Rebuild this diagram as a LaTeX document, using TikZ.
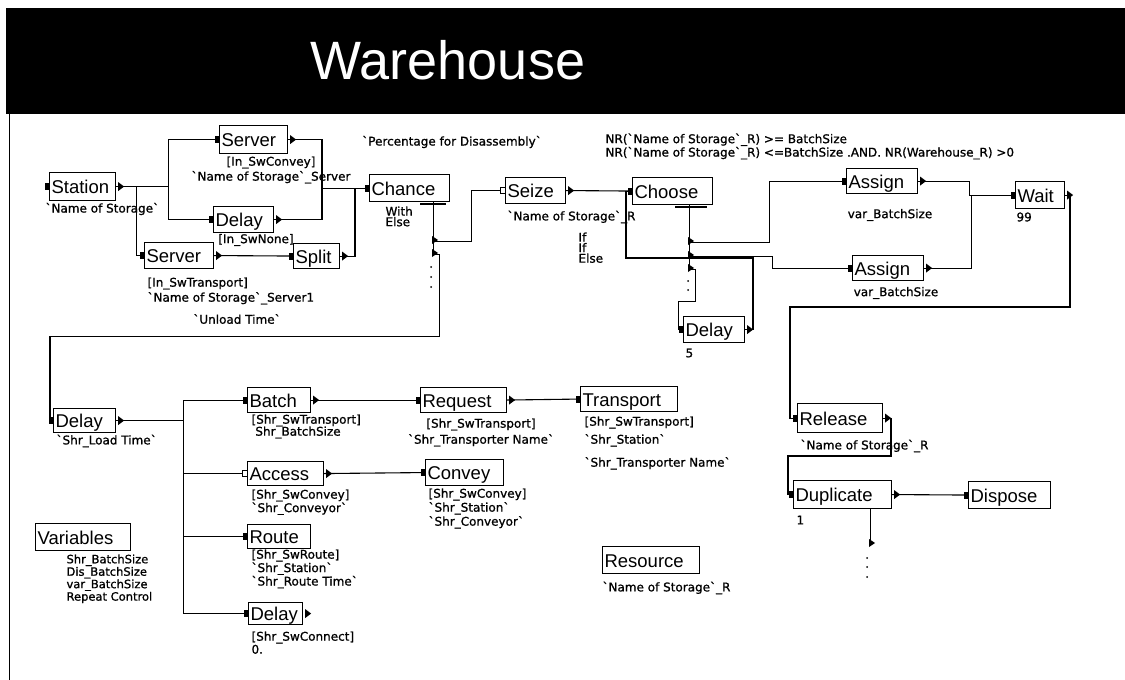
\documentclass[tikz,border=0pt]{standalone}
\usepackage{fontspec}
\setmainfont{Liberation Sans}
\newfontfamily\labfont[FakeBold=1]{DejaVu Sans}
\newcommand{\modfont}{\fontsize{18.5}{20}\selectfont}

\begin{document}
\begin{tikzpicture}[x=1pt,y=-1pt,line width=1.1pt,
  mod/.style={draw,font=\modfont,inner xsep=2pt,inner ysep=0pt,text height=15pt,text depth=1pt,anchor=north west,align=left},
  lab/.style={font=\labfont\fontsize{12}{14}\selectfont,inner sep=0pt,align=left},
  tight/.style={font=\labfont\fontsize{12}{10.5}\selectfont,inner sep=0pt,align=left,anchor=north west}]
\useasboundingbox (0,0) rectangle (1125,680);

% Header
\fill[black] (6,8) rectangle (1125,114);
\node[font=\fontsize{54}{58}\selectfont,text=white] (title) at (448,60) {Warehouse};
\draw[line width=1pt] (9,114) -- (9,680);

% Modules
\node[mod,text width=62pt,minimum height=28pt] (station) at (49,172) {Station};
\node[mod,text width=64pt,minimum height=28pt] (serverA) at (219,125) {Server};
\node[mod,text width=56pt,minimum height=26pt] (delayA) at (213,206) {Delay};
\node[mod,text width=65pt,minimum height=26pt] (serverB) at (144,242) {Server};
\node[mod,text width=42pt,minimum height=25pt] (split) at (293,243) {Split};
\node[mod,text width=76pt,minimum height=27pt] (chance) at (369,174) {Chance};
\node[mod,text width=56pt,minimum height=26pt] (seize) at (505,177) {Seize};
\node[mod,text width=76pt,minimum height=27pt] (choose) at (632,177) {Choose};
\node[mod,text width=67pt,minimum height=25pt] (assignA) at (846,168) {Assign};
\node[mod,text width=67pt,minimum height=25pt] (assignB) at (852,255) {Assign};
\node[mod,text width=45pt,minimum height=27pt] (wait) at (1015,181) {Wait};
\node[mod,text width=57pt,minimum height=26pt] (delayB) at (683,316) {Delay};
\node[mod,text width=58pt,minimum height=24pt] (delayC) at (53,408) {Delay};
\node[mod,text width=59pt,minimum height=25pt] (batch) at (247,387) {Batch};
\node[mod,text width=72pt,minimum height=24pt] (access) at (247,461) {Access};
\node[mod,text width=59pt,minimum height=24pt] (route) at (247,524) {Route};
\node[mod,text width=50pt,minimum height=22pt] (delayD) at (248,602) {Delay};
\node[mod,text width=91pt,minimum height=27pt] (variables) at (35,523) {Variables};
\node[mod,text width=82pt,minimum height=25pt] (request) at (420,387) {Request};
\node[mod,text width=93pt,minimum height=25pt] (transport) at (580,386) {Transport};
\node[mod,text width=74pt,minimum height=26pt] (convey) at (425,459) {Convey};
\node[mod,text width=93pt,minimum height=27pt] (resource) at (602,546) {Resource};
\node[mod,text width=81pt,minimum height=29pt] (release) at (797,403) {Release};
\node[mod,text width=94pt,minimum height=28pt] (duplicate) at (793,480) {Duplicate};
\node[mod,text width=78pt,minimum height=27pt] (dispose) at (968,481) {Dispose};

% Labels
\node[lab,anchor=west] (stationlab) at (45,209) {`Name of Storage`};
\node[lab,align=center,font=\labfont\fontsize{12}{15}\selectfont] (serverAlab) at (271,170) {[In\_SwConvey]\\`Name of Storage`\_Server};
\node[lab] (delayAlab) at (256,240) {[In\_SwNone]};
\node[lab,anchor=north west,font=\labfont\fontsize{12}{15}\selectfont] (serverBlab) at (147,277) {[In\_SwTransport]\\`Name of Storage`\_Server1};
\node[lab] (unloadlab) at (237,319) {`Unload Time`};
\node[lab] (disslab) at (452,142) {`Percentage for Disassembly`};
\node[tight] (chancelab) at (385,206) {With\\Else};
\node[lab,anchor=west] (seizelab) at (507,217) {`Name of Storage`\_R};
\node[tight] (iflab) at (578,232) {If\\If\\Else};
\node[tight] (condlab) at (605,133) {NR(`Name of Storage`\_R) >= BatchSize\\NR(`Name of Storage`\_R) <=BatchSize .AND. NR(Warehouse\_R) >0};
\node[lab] (assignAlab) at (890,215) {var\_BatchSize};
\node[lab,anchor=west] (waitlab) at (1016,217) {99};
\node[lab] (assignBlab) at (896,293) {var\_BatchSize};
\node[lab,anchor=west] (delayBlab) at (685,353) {5};
\node[lab,anchor=west] (delayClab) at (56,441) {`Shr\_Load Time`};
\node[tight,font=\labfont\fontsize{12}{12}\selectfont] (batchlab) at (251,414) {[Shr\_SwTransport]\\\ Shr\_BatchSize};
\node[tight,font=\labfont\fontsize{12}{12}\selectfont] (accesslab) at (251,489) {[Shr\_SwConvey]\\`Shr\_Conveyor`};
\node[tight,font=\labfont\fontsize{12}{12}\selectfont] (routelab) at (251,549) {[Shr\_SwRoute]\\`Shr\_Station`\\`Shr\_Route Time`};
\node[tight,font=\labfont\fontsize{12}{13}\selectfont] (delayDlab) at (251,631) {[Shr\_SwConnect]\\0.};
\node[tight,font=\labfont\fontsize{11.5}{10}\selectfont] (varlab) at (66,554) {Shr\_BatchSize\\Dis\_BatchSize\\var\_BatchSize\\Repeat Control};
\node[lab,anchor=north,align=center,font=\labfont\fontsize{12}{16}\selectfont] (requestlab) at (481,418) {[Shr\_SwTransport]\\`Shr\_Transporter Name`};
\node[tight,font=\labfont\fontsize{12}{18}\selectfont] (transportlab) at (584,416) {[Shr\_SwTransport]\\`Shr\_Station`\\[5pt]`Shr\_Transporter Name`};
\node[tight,font=\labfont\fontsize{12}{14}\selectfont] (conveylab) at (428,488) {[Shr\_SwConvey]\\`Shr\_Station`\\`Shr\_Conveyor`};
\node[lab,anchor=west] (resourcelab) at (602,588) {`Name of Storage`\_R};
\node[lab,anchor=west] (releaselab) at (800,446) {`Name of Storage`\_R};
\node[lab,anchor=west] (duplab) at (796,520) {1};

% Connectors
\draw (station.east) -- ++(52,0) |- (serverA.west);
\draw (station.east) -- ++(52,0) |- (delayA.west);
\draw (station.east) -- ++(20,0) |- (serverB.west);
\draw (serverA.east) -| ([xshift=-47pt]chance.west) -- (chance.west);
\draw (delayA.east) -| ([xshift=-47pt]chance.west);
\draw (serverB.east) -- (split.west);
\draw (split.east) -| ([xshift=-14pt]chance.west);

\coordinate (chanceout) at ([xshift=-17pt]chance.south east);
\draw (chanceout) -- ++(0,52);
\draw (chanceout) ++(0,39) -- ++(38,0) |- (seize.west);
\draw (chanceout) ++(0,52) -- ++(6,0) -- ++(0,82) -| ([xshift=-3pt]delayC.west) -- (delayC.west);

\draw (seize.east) -- (choose.west);
\coordinate (chooseout) at ([xshift=-24pt]choose.south east);
\draw (chooseout) -- ++(0,64);
\draw (chooseout) ++(0,37) -- ++(80,0) |- (assignA.west);
\draw (chooseout) ++(0,51) -- ++(83,0) |- (assignB.west);
\draw (chooseout) ++(0,64) -- ++(6,0) -- ++(0,32) -- ++(-17,0) |- (delayB.west);
\draw (delayB.east) -| (753,258) -| ([xshift=-6pt]choose.west) -- (choose.west);

\draw (assignA.east) -- ++(51,0) |- (wait.west);
\draw (assignB.east) -- ++(47,0) |- (wait.west);
\draw (wait.east) -| (1070,307) -| ([xshift=-7pt]release.west) -- (release.west);
\draw (release.east) -| (891,456) -| ([xshift=-5pt]duplicate.west) -- (duplicate.west);
\draw (duplicate.east) -- (dispose.west);
\coordinate (dupout) at ([xshift=-22pt]duplicate.south east);
\draw (dupout) -- ++(0,35);

\draw (delayC.east) -- ++(67,0) coordinate (fork);
\foreach \n in {batch,access,route,delayD} \draw (fork) |- (\n.west);
\draw (batch.east) -- (request.west);
\draw (request.east) -- (transport.west);
\draw (access.east) -- (convey.west);

% Ports
\foreach \n in {station,serverA,delayA,serverB,split,chance,choose,assignA,assignB,wait,delayB,delayC,batch,route,delayD,request,transport,convey,release,duplicate,dispose}
  \fill ([xshift=-4pt,yshift=-3.5pt]\n.west) rectangle ([yshift=3.5pt]\n.west);
\foreach \n in {seize,access}
  \draw[line width=0.8pt,fill=white] ([xshift=-5pt,yshift=-3pt]\n.west) rectangle ([yshift=3pt]\n.west);
\foreach \n in {station,serverA,delayA,serverB,split,seize,assignA,assignB,wait,delayB,delayC,batch,access,delayD,request,release,duplicate}
  \fill ([xshift=2pt,yshift=4.5pt]\n.east) -- ([xshift=8pt]\n.east) -- ([xshift=2pt,yshift=-4.5pt]\n.east) -- cycle;

% Branch points
\foreach \x/\y in {432/240,432/253,688/241,688/255,688/268,869/543}
  \fill (\x,\y-4) -- (\x+6,\y) -- (\x,\y+4) -- cycle;
\foreach \x/\y in {431/267,431/277,431/287,688/281,688/290,867/558,867/567,867/577}
  \fill (\x,\y) circle (1pt);
\draw[line width=2pt] ([xshift=-30pt,yshift=-2pt]chance.south east) -- ([xshift=-4pt,yshift=-2pt]chance.south east);
\draw[line width=2pt] ([xshift=-38pt,yshift=-2pt]choose.south east) -- ([xshift=-6pt,yshift=-2pt]choose.south east);

\end{tikzpicture}
\end{document}
